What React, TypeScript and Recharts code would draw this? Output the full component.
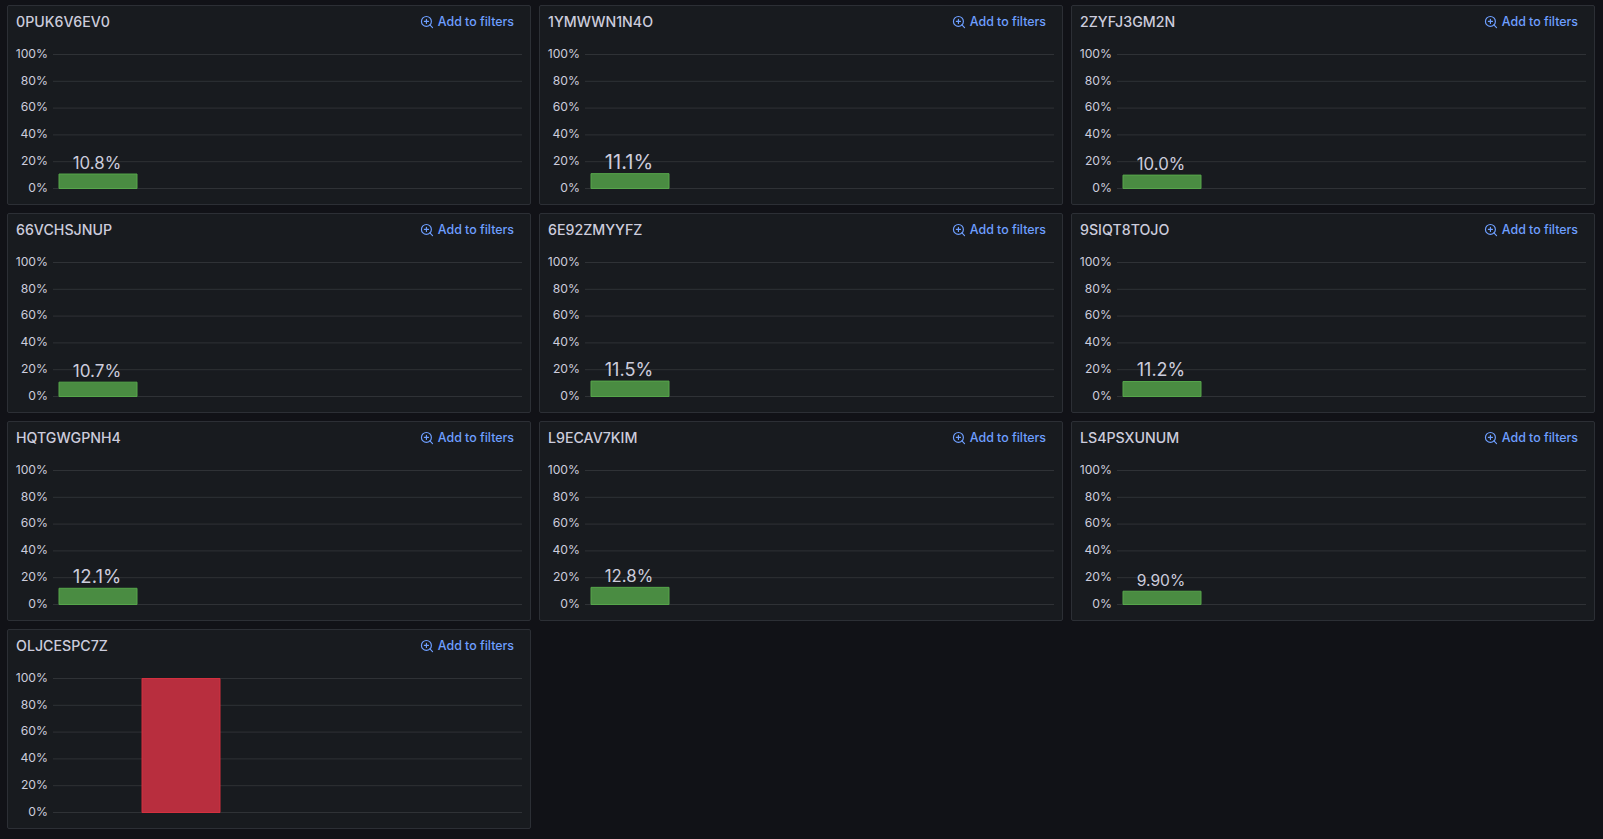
import React from 'react';
import { BarChart, Bar, Cell, XAxis, YAxis, CartesianGrid, LabelList } from 'recharts';

const panelNames = [
  '0PUK6V6EV0', '1YMWWN1N4O', '2ZYFJ3GM2N',
  '66VCHSJNUP', '6E92ZMYYFZ', '9SIQT8TOJO',
  'HQTGWGPNH4', 'L9ECAV7KIM', 'LS4PSXUNUM',
  'OLJCESPC7Z',
];
const categories = ['first', 'second'];
const firstValues = [10.8, 11.1, 10.0, 10.7, 11.5, 11.2, 12.1, 12.8, 9.9, 0];
const secondValues = [0, 0, 0, 0, 0, 0, 0, 0, 0, 100];
const barColors = ['#4a8c42', '#b82e3e'];
const barStrokes = ['#56a64b', '#d3303f'];
const yTicks = [0, 20, 40, 60, 80, 100];

const PANEL_W = 524;
const PANEL_H = 200;
const LABEL_W = 48.5;

// value text is auto sized to a fixed width, like the original panel does
const canvas = document.createElement('canvas').getContext('2d')!;
const fitFontSize = (text: string) => {
  canvas.font = '100px Inter';
  return (LABEL_W * 100) / canvas.measureText(text).width;
};

const AddIcon = () => (
  <svg width="14" height="14" viewBox="0 0 24 24" fill="none" stroke="#6e9fff" strokeWidth="2" strokeLinecap="round">
    <circle cx="11" cy="11" r="8.5" />
    <path d="M21.5 21.5L17 17M11 7.5v7M7.5 11h7" />
  </svg>
);

const ValueLabel = (props: any) => {
  const { x, y, width, value } = props;
  if (!value || value >= 100) return null;
  const text = `${Number(value).toPrecision(3)}%`;
  return (
    <text x={x + width / 2 - 1} y={y - 5} textAnchor="middle" fill="#ccccdc" fontSize={fitFontSize(text)}>
      {text}
    </text>
  );
};

const Panel = ({ index }: { index: number }) => {
  const data = categories.map((c, i) => ({
    name: c,
    value: i === 0 ? firstValues[index] : secondValues[index],
  }));
  const left = 7 + (index % 3) * 532;
  const top = 5 + Math.floor(index / 3) * 208;

  return (
    <div
      style={{
        position: 'absolute',
        left,
        top,
        width: PANEL_W,
        height: PANEL_H,
        boxSizing: 'border-box',
        background: '#181b1f',
        border: '1px solid #2c2f35',
        borderRadius: 2,
      }}
    >
      <div style={{ position: 'absolute', left: 8, top: 6, fontSize: 14.2, fontWeight: 500, color: '#ccccdc', lineHeight: '20px' }}>
        {panelNames[index]}
      </div>
      <div style={{ position: 'absolute', right: 16, top: 6, fontSize: 12.4, fontWeight: 500, color: '#6e9fff', lineHeight: '20px', display: 'flex', alignItems: 'center', gap: 4 }}>
        <AddIcon />
        <span>Add to filters</span>
      </div>
      <div style={{ position: 'absolute', left: 0, top: 0 }}>
        <BarChart
          width={PANEL_W - 2}
          height={PANEL_H - 2}
          data={data}
          margin={{ top: 48.5, right: 8, bottom: 15.5, left: 0 }}
        >
          <CartesianGrid vertical={false} stroke="#2f3236" strokeWidth={1} />
          <XAxis dataKey="name" hide padding={{ left: 3, right: 300 }} />
          <YAxis
            domain={[0, 100]}
            ticks={yTicks}
            width={45}
            axisLine={false}
            tickLine={false}
            tickMargin={0}
            tickFormatter={(v: number) => `${v}%`}
            tick={{ fill: '#ccccdc', fontSize: 12.2, fontFamily: 'Inter', dx: 1, dy: -1 }}
            interval={0}
          />
          <Bar dataKey="value" barSize={78} isAnimationActive={false} strokeWidth={1}>
            {data.map((d, i) => (
              <Cell key={d.name} fill={barColors[i]} stroke={barStrokes[i]} />
            ))}
            <LabelList dataKey="value" content={<ValueLabel />} />
          </Bar>
        </BarChart>
      </div>
    </div>
  );
};

export default function App() {
  return (
    <div style={{ position: 'fixed', inset: 0, background: '#111217', fontFamily: 'Inter', overflow: 'hidden' }}>
      {panelNames.map((n, i) => (
        <Panel key={n} index={i} />
      ))}
    </div>
  );
}
